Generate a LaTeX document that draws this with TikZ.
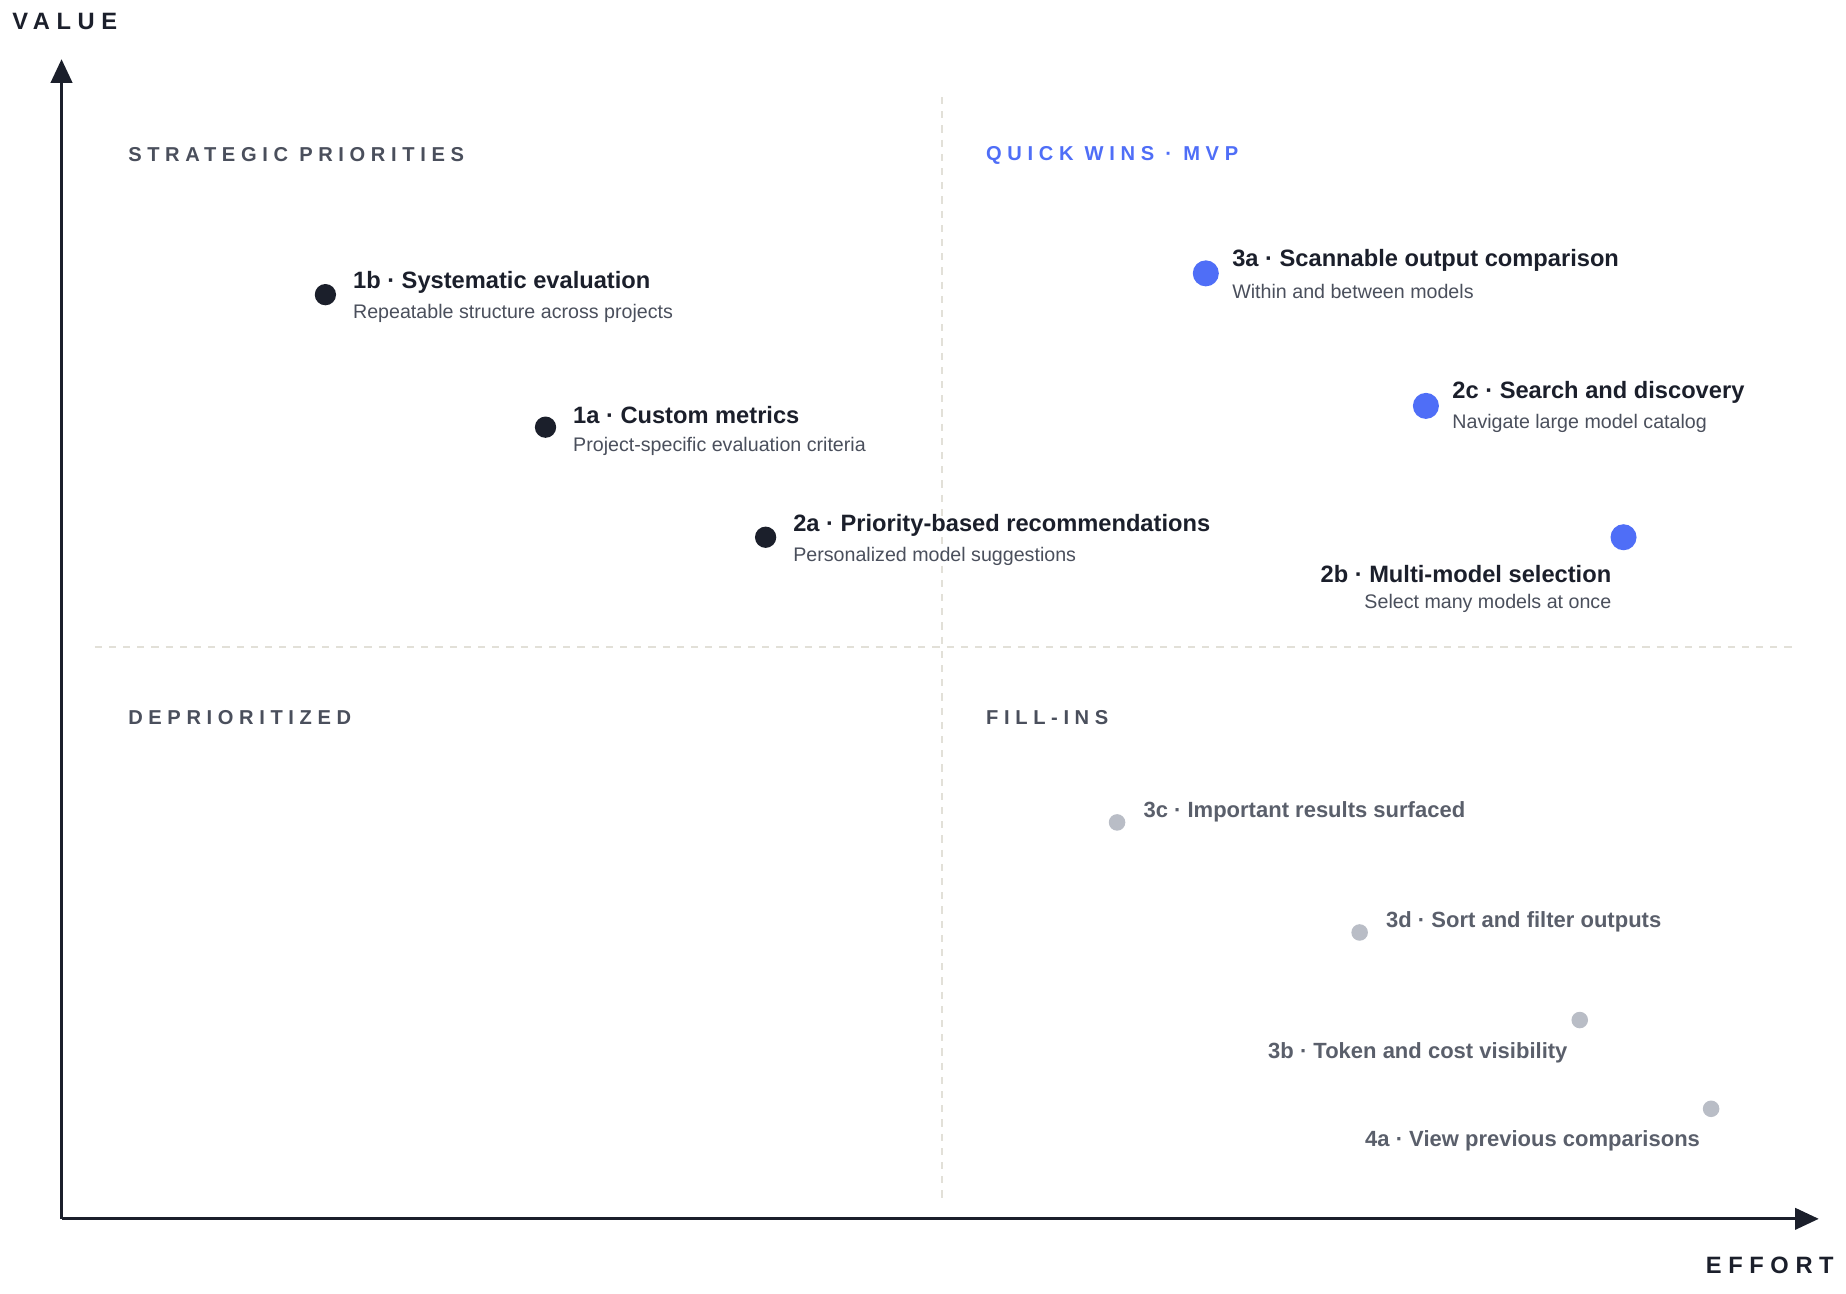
\documentclass[tikz,border=0pt]{standalone}
\usepackage{fontspec}
\setmainfont{Liberation Sans}
\newfontfamily\spacedfont[LetterSpace=28]{Liberation Sans}
\usetikzlibrary{arrows.meta,positioning}
\definecolor{inkdark}{HTML}{1B1F2B}
\definecolor{wingblue}{HTML}{4F6EF7}
\definecolor{fillgray}{HTML}{B9BDC6}
\definecolor{subtext}{HTML}{4A4F5C}
\definecolor{graytext}{HTML}{5A5F6B}
\definecolor{gridline}{HTML}{E2E0D8}
\tikzset{
  quadlabel/.style={anchor=west, font=\spacedfont\bfseries\fontsize{8.5}{10}\selectfont, text=subtext, inner sep=0pt},
  axislabel/.style={font=\spacedfont\bfseries\fontsize{10}{12}\selectfont, text=inkdark, inner sep=0pt},
  title/.style={font=\bfseries\fontsize{10}{12}\selectfont, text=inkdark, inner sep=0pt},
  subtitle/.style={font=\fontsize{8.3}{10}\selectfont, text=subtext, inner sep=0pt},
  graytitle/.style={font=\bfseries\fontsize{9.3}{11}\selectfont, text=graytext, inner sep=0pt},
  darkdot/.style={circle, fill=inkdark, minimum size=9pt, inner sep=0pt},
  bluedot/.style={circle, fill=wingblue, minimum size=11pt, inner sep=0pt},
  graydot/.style={circle, fill=fillgray, minimum size=7pt, inner sep=0pt},
}
\begin{document}
\begin{tikzpicture}[x=0.5pt, y=-0.5pt]
    \useasboundingbox (0,0) rectangle (1560,1093);

    % Quadrant dividers
    \draw[gridline, thick, dashed] (796,82) -- (796,1012);
    \draw[gridline, thick, dashed] (80,547) -- (1515,547);

    % Axes
    \coordinate (origin) at (52,1030);
    \coordinate (ytop) at (52,50);
    \coordinate (xend) at (1537,1030);
    \draw[inkdark, line width=1.3pt, -{Triangle[length=10pt,width=9pt]}] (origin) -- (ytop);
    \draw[inkdark, line width=1.3pt, -{Triangle[length=10pt,width=9pt]}] (origin) -- (xend);
    \node[axislabel, anchor=west] (value) at (10,18) {VALUE};
    \node[axislabel, anchor=east] (effort) at (1550,1069) {EFFORT};

    % Quadrant labels
    \node[quadlabel] (strategic) at (108,131) {STRATEGIC PRIORITIES};
    \node[quadlabel, text=wingblue] (quickwins) at (833,131) {QUICK WINS · MVP};
    \node[quadlabel] (deprio) at (108,606) {DEPRIORITIZED};
    \node[quadlabel] (fillins) at (833,606) {FILL-INS};

    % Strategic priorities
    \node[darkdot] (d1b) at (275,249) {};
    \node[title, anchor=west] (t1b) at (298,239) {1b · Systematic evaluation};
    \node[subtitle, anchor=west] (s1b) at (298,265) {Repeatable structure across projects};
    \node[darkdot] (d1a) at (461,361) {};
    \node[title, anchor=west] (t1a) at (484,351) {1a · Custom metrics};
    \node[subtitle, anchor=west] (s1a) at (484,377) {Project-specific evaluation criteria};
    \node[darkdot] (d2a) at (647,454) {};
    \node[title, anchor=west] (t2a) at (670,444) {2a · Priority-based recommendations};
    \node[subtitle, anchor=west] (s2a) at (670,470) {Personalized model suggestions};

    % Quick wins
    \node[bluedot] (d3a) at (1019,231) {};
    \node[title, anchor=west] (t3a) at (1041,220) {3a · Scannable output comparison};
    \node[subtitle, anchor=west] (s3a) at (1041,246) {Within and between models};
    \node[bluedot] (d2c) at (1205,343) {};
    \node[title, anchor=west] (t2c) at (1227,332) {2c · Search and discovery};
    \node[subtitle, anchor=west] (s2c) at (1227,358) {Navigate large model catalog};
    \node[bluedot] (d2b) at (1372,454) {};
    \node[title, anchor=east] (t2b) at (1362,485) {2b · Multi-model selection};
    \node[subtitle, anchor=east] (s2b) at (1362,510) {Select many models at once};

    % Fill-ins
    \node[graydot] (d3c) at (944,695) {};
    \node[graytitle, anchor=west] (t3c) at (966,686) {3c · Important results surfaced};
    \node[graydot] (d3d) at (1149,788) {};
    \node[graytitle, anchor=west] (t3d) at (1171,779) {3d · Sort and filter outputs};
    \node[graydot] (d3b) at (1335,862) {};
    \node[graytitle, anchor=east] (t3b) at (1325,890) {3b · Token and cost visibility};
    \node[graydot] (d4a) at (1446,937) {};
    \node[graytitle, anchor=east] (t4a) at (1437,964) {4a · View previous comparisons};
\end{tikzpicture}
\end{document}
